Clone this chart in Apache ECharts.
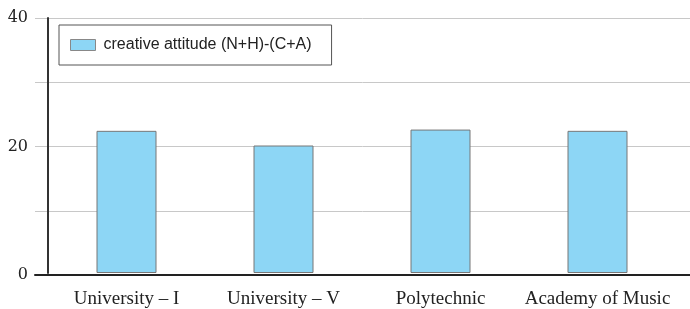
<!DOCTYPE html>
<html><head><meta charset="utf-8">
<script src="https://cdn.jsdelivr.net/npm/echarts@6/dist/echarts.min.js"></script>
<style>html,body{margin:0;padding:0;background:#fff}#c{width:690px;height:309px}</style>
</head><body><div id="c"></div>
<script>
const categories = ['University – I', 'University – V', 'Polytechnic', 'Academy of Music'];
const seriesName = 'creative attitude (N+H)-(C+A)';
const values = [22.3, 20.0, 22.5, 22.3];
const yTickLabels = ['0', '20', '40'];

const chart = echarts.init(document.getElementById('c'), null, {renderer: 'canvas'});
chart.setOption({
  animation: false,
  backgroundColor: '#fff',
  legend: {
    left: 59, top: 25,
    padding: [12, 20, 12, 11],
    borderColor: '#555', borderWidth: 1, borderRadius: 0,
    itemWidth: 25, itemHeight: 11,
    icon: 'rect',
    itemStyle: {borderColor: '#888', borderWidth: 1},
    textStyle: {fontFamily: 'Liberation Sans', fontSize: 16, color: '#222', padding: [0, 0, 0, 3]},
    data: [seriesName]
  },
  grid: [
    {left: 35, right: 0, top: 18, bottom: 34},
    {left: 48, right: 14, top: 18, bottom: 34}
  ],
  xAxis: [
    {gridIndex: 0, type: 'category', data: categories,
     axisLine: {show: true, lineStyle: {color: '#222', width: 2}},
     axisTick: {show: false}, axisLabel: {show: false}},
    {gridIndex: 1, type: 'category', data: categories,
     axisLine: {show: false}, axisTick: {show: false},
     axisLabel: {interval: 0, fontFamily: 'Liberation Serif', fontSize: 19, color: '#222', margin: 17}}
  ],
  yAxis: [
    {gridIndex: 0, type: 'value', min: 0, max: 40, interval: 10,
     axisLine: {show: false}, axisTick: {show: false},
     axisLabel: {fontFamily: 'DejaVu Serif', fontSize: 16, color: '#222', margin: 7,
       formatter: v => yTickLabels.includes(String(v)) ? String(v) : ''},
     splitLine: {lineStyle: {color: '#c8c8c8', width: 1}}},
    {gridIndex: 1, type: 'value', min: 0, max: 40, interval: 10,
     axisLine: {show: true, lineStyle: {color: '#333', width: 2}},
     axisTick: {show: false}, axisLabel: {show: false}, splitLine: {show: false}}
  ],
  series: [{
    name: seriesName, type: 'bar', xAxisIndex: 1, yAxisIndex: 1,
    data: values, barWidth: 60,
    itemStyle: {color: '#8dd6f5', borderColor: '#777', borderWidth: 1}
  }]
});
</script></body></html>
